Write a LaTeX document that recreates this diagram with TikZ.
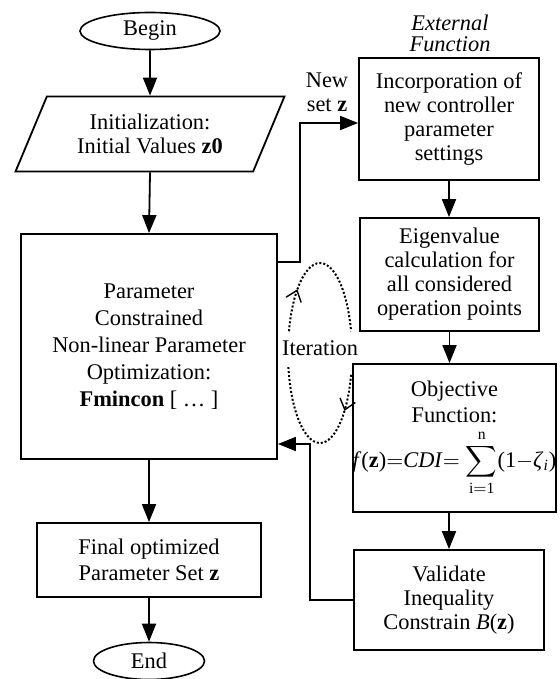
\documentclass[tikz,border=0pt]{standalone}
\usepackage{fontspec}
\setmainfont{Liberation Serif}
\usepackage{amsmath}
\usepackage{tikz}
\usetikzlibrary{shapes.geometric}
\usetikzlibrary{arrows.meta}
\usetikzlibrary{calc}

\begin{document}
\begin{tikzpicture}[x=0.5pt,y=-0.5pt,font=\fontsize{11.2}{12}\selectfont,
	terminal/.style={ellipse,draw,line width=0.8pt,inner sep=0pt},
	iobox/.style={trapezium,trapezium left angle=61,trapezium right angle=119,trapezium stretches=true,draw,line width=0.9pt,inner sep=0pt,align=center},
	stepbox/.style={rectangle,draw,line width=0.9pt,inner sep=0pt,align=center},
	fleche/.style={line width=0.9pt,-{Triangle[length=9pt,width=7pt]}},
	iterarc/.style={line width=1pt,densely dotted,-{Straight Barb[length=5pt,width=8pt,line width=0.7pt]}}]
\useasboundingbox (0,0) rectangle (559,679);
%colonne de gauche
\node[terminal,minimum width=70pt,minimum height=18.5pt] (begin) at (150,31) {Begin};
\node[iobox,minimum width=135pt,minimum height=37.5pt] (init) at (150,134) {Initialization:\\Initial Values \textbf{z0}};
\node[stepbox,minimum width=128pt,minimum height=112.5pt,font=\fontsize{11.2}{13.5}\selectfont] (param) at (149,346.5) {Parameter\\Constrained\\Non-linear Parameter\\Optimization:\\\textbf{Fmincon} [ … ]};
\node[stepbox,minimum width=112pt,minimum height=37pt,font=\fontsize{11.2}{13}\selectfont] (final) at (149,560) {Final optimized\\Parameter Set \textbf{z}};
\node[terminal,minimum width=55.5pt,minimum height=18.5pt] (end) at (149,661) {End};
\draw[fleche] (begin.south) -- (init.north);
\draw[fleche] (init.south) -- (param.north);
\draw[fleche] (param.south) -- (final.north);
\draw[fleche] (final.south) -- (end.north);

%fonction externe
\node[align=center,font=\fontsize{11.2}{10.5}\selectfont\itshape] (ext) at (450,33) {External\\Function};
\node[stepbox,minimum width=90pt,minimum height=61pt] (incorp) at (449,119) {Incorporation of\\new controller\\parameter\\settings};
\node[stepbox,minimum width=89.5pt,minimum height=56.5pt] (eigen) at (449.5,274.5) {Eigenvalue\\calculation for\\all considered\\operation points};
\node[stepbox,minimum width=97.5pt,minimum height=74pt,font=\fontsize{11.2}{13}\selectfont] (obj) at (454.5,438) {Objective\\Function:\\[3pt]\textit{f}(\textbf{z})$=$\textit{CDI}$=\displaystyle\sum_{\mathrm{i=1}}^{\mathrm{n}}$(1$-$\textit{ζ}\textsubscript{\textit{i}})};
\node[stepbox,minimum width=95pt,minimum height=50pt] (valid) at (449,600) {Validate\\Inequality\\Constrain \textit{B}(\textbf{z})};
\draw[fleche] (incorp.south) -- (incorp.south |- eigen.north);
\draw[fleche] (eigen.south) -- (eigen.south |- obj.north);
\draw[fleche] (valid.north |- obj.south) -- (valid.north);

%boucle
\node[align=center] (newz) at (327,92) {New\\set \textbf{z}};
\draw[fleche] (param.east |- 0,262) -- (300,262) |- (incorp.west |- 0,123);
\draw[fleche] (valid.west) -| (310,444) -- (param.east |- 0,444);

%iteration
\coordinate (itc) at (320,353);
\node (iter) at (320,348) {Iteration};
\draw[iterarc] ([shift={(166:16pt and 45pt)}]itc) arc[start angle=166,end angle=135,x radius=16pt,y radius=45pt];
\draw[line width=1pt,densely dotted] ([shift={(135:16pt and 45pt)}]itc) arc[start angle=135,end angle=14,x radius=16pt,y radius=45pt];
\draw[iterarc] ([shift={(-14:16pt and 45pt)}]itc) arc[start angle=-14,end angle=-40,x radius=16pt,y radius=45pt];
\draw[line width=1pt,densely dotted] ([shift={(-40:16pt and 45pt)}]itc) arc[start angle=-40,end angle=-172,x radius=16pt,y radius=45pt];
\end{tikzpicture}
\end{document}
